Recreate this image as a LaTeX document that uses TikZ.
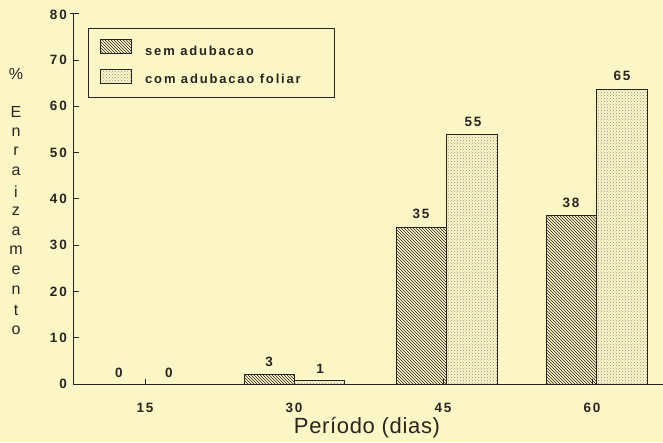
\documentclass[tikz,border=0pt]{standalone}
\usepackage{fontspec}
\setmainfont{Liberation Sans}
\newfontfamily\spaced[LetterSpace=14]{Liberation Sans}
\newfontfamily\titlefont[LetterSpace=3]{Liberation Sans}
\usetikzlibrary{patterns}
\definecolor{paper}{HTML}{FCF6C6}
\definecolor{ink}{HTML}{2A2420}
\begin{document}
\begin{tikzpicture}[x=1pt,y=-1pt,
  axis/.style={draw=ink,line width=0.8pt},
  hatchbar/.style={draw=ink,line width=0.7pt,pattern=north west lines,pattern color=ink},
  dotbar/.style={draw=ink,line width=0.7pt,pattern=crosshatch dots,pattern color=ink!50},
  ticklbl/.style={font=\spaced\bfseries\fontsize{13.5}{13.5}\selectfont,text=ink,inner sep=0pt},
  vallbl/.style={font=\spaced\bfseries\fontsize{13.5}{13.5}\selectfont,text=ink,inner sep=0pt},
  leglbl/.style={font=\spaced\bfseries\fontsize{13}{13}\selectfont,text=ink,inner sep=0pt,anchor=west},
  ylet/.style={font=\fontsize{16}{16}\selectfont,text=ink,inner sep=0pt}
]
\fill[paper] (0,0) rectangle (663,442);
\useasboundingbox (0,0) rectangle (663,442);
% axes
\draw[axis] (73,13) -- (73,384) -- (663,384);
\draw[axis] (70,13) -- (79,13);
\foreach \v in {0,10,...,70}{
  \draw[axis] (73,{384-\v*4.63}) -- (79,{384-\v*4.63});
  \node[ticklbl,anchor=east] (y\v) at (67,{384-\v*4.63}) {\v};
}
\node[ticklbl,anchor=east] (y80) at (67,15) {80};
\foreach \x/\l in {145/15,294/30,443/45,592/60}{
  \draw[axis] (\x,384) -- (\x,379);
  \node[ticklbl] (x\l) at (\x,408) {\l};
}
% bars
\draw[hatchbar] (244,384) rectangle (294,374);
\draw[dotbar] (294,384) rectangle (344,380);
\draw[hatchbar] (396,384) rectangle (446,227);
\draw[dotbar] (446,384) rectangle (497,134);
\draw[hatchbar] (546,384) rectangle (596,215);
\draw[dotbar] (596,384) rectangle (647,89);
% value labels
\node[vallbl] (v15a) at (119,373) {0};
\node[vallbl] (v15b) at (169,373) {0};
\node[vallbl] (v30a) at (269,362) {3};
\node[vallbl] (v30b) at (320,369) {1};
\node[vallbl] (v45a) at (421,214) {35};
\node[vallbl] (v45b) at (473,122) {55};
\node[vallbl] (v60a) at (571,203) {38};
\node[vallbl] (v60b) at (622,76) {65};
% legend
\draw[draw=ink,line width=0.8pt] (88,28) rectangle (334,97);
\draw[hatchbar] (100,39) rectangle (131,53);
\draw[dotbar] (100,69) rectangle (131,83);
\node[leglbl] (l1) at (145,51) {sem adubacao};
\node[leglbl] (l2) at (145,79) {com adubacao foliar};
% axis titles
\node[font=\fontsize{16}{16}\selectfont,text=ink,inner sep=0pt] (pct) at (16,74) {\%};
\foreach \c [count=\i from 0] in {E,n,r,a,i,z,a,m,e,n,t,o}{
  \node[ylet] (yl\i) at (16,{112+\i*19.8}) {\c};
}
\node[font=\titlefont\fontsize{22}{22}\selectfont,text=ink,inner sep=0pt] (xt) at (367,428) {Período (dias)};
\end{tikzpicture}
\end{document}
